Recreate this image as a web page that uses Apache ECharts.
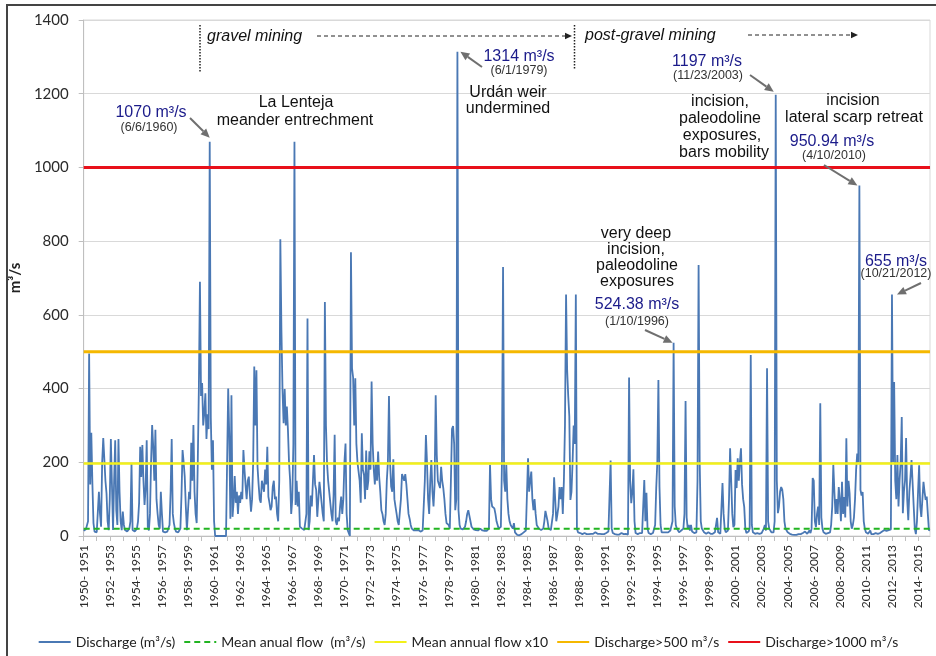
<!DOCTYPE html>
<html>
<head>
<meta charset="utf-8">
<script src="https://cdn.jsdelivr.net/npm/echarts@6/dist/echarts.min.js"></script>
<style>
  html, body { margin: 0; padding: 0; background: #fff; }
  #chart { width: 936px; height: 656px; }
</style>
</head>
<body>
<div id="chart"></div>
<script>
// hydrological years (Oct - Sep); a label every second year
const yearLabels = [];
for (let y = 1950; y <= 2014; y++) yearLabels.push(y + '- ' + (y + 1));

// monthly discharge, m3/s, one row per hydrological year
const flow1950s = [
  14, 16, 18, 22, 40, 495, 140, 280, 143, 35, 12, 10,
  10, 12, 120, 60, 25, 200, 266, 263, 150, 116, 40, 16,
  100, 263, 140, 16, 150, 260, 70, 30, 263, 120, 40, 16,
  66, 30, 16, 14, 12, 14, 20, 40, 197, 16, 14, 12,
  15, 20, 40, 90, 242, 160, 247, 150, 84, 130, 260, 25,
  15, 60, 200, 301, 242, 150, 288, 100, 61, 30, 20, 120,
  60, 12, 10, 10, 10, 12, 12, 30, 120, 263, 60, 35,
  20, 12, 10, 10, 12, 20, 110, 233, 200, 161, 80, 16,
  16, 120, 100, 253, 150, 301, 120, 60, 35, 200, 400, 690,
  380, 415, 300, 333, 387, 263, 330, 290, 1070, 320, 180, 260
];
const flow1960s = [
  40, 0, 0, 0, 0, 0, 0, 0, 0, 0, 0, 0,
  0, 400, 271, 47, 382, 52, 93, 163, 90, 120, 60, 110,
  90, 120, 100, 233, 180, 138, 100, 150, 161, 110, 66, 100,
  200, 460, 300, 450, 188, 140, 100, 90, 150, 152, 120, 180,
  140, 242, 107, 90, 70, 80, 133, 150, 100, 107, 60, 40,
  150, 805, 559, 396, 306, 399, 300, 351, 288, 200, 152, 60,
  100, 250, 1070, 84, 150, 80, 120, 25, 30, 20, 18, 16,
  16, 60, 590, 16, 40, 110, 80, 150, 220, 140, 125, 52,
  100, 147, 120, 90, 60, 40, 635, 300, 197, 150, 120, 90,
  60, 40, 110, 275, 40, 30, 50, 40, 80, 107, 60, 100
];
const flow1970s = [
  200, 251, 60, 16, 16, 0, 770, 455, 430, 300, 428, 250,
  200, 197, 150, 90, 279, 180, 166, 100, 232, 125, 150, 230,
  180, 419, 250, 180, 140, 200, 150, 229, 160, 120, 70, 60,
  40, 30, 60, 150, 200, 380, 200, 134, 120, 208, 100, 80,
  61, 40, 30, 25, 100, 168, 160, 150, 168, 140, 100, 60,
  47, 30, 20, 18, 15, 14, 15, 20, 16, 14, 12, 12,
  15, 20, 150, 274, 200, 100, 60, 150, 206, 120, 80, 140,
  382, 220, 150, 140, 130, 188, 150, 130, 100, 60, 35, 30,
  30, 20, 150, 290, 298, 250, 70, 100, 1314, 70, 30, 20,
  20, 18, 20, 25, 40, 60, 70, 68, 40, 25, 20, 18
];
const flow1980s = [
  18, 16, 15, 15, 18, 20, 16, 15, 14, 14, 13, 14,
  15, 20, 193, 100, 80, 76, 75, 60, 40, 30, 20, 18,
  25, 200, 730, 150, 120, 193, 100, 60, 40, 30, 25, 20,
  35, 10, 5, 3, 2, 2, 3, 5, 8, 10, 12, 15,
  20, 211, 120, 150, 175, 100, 70, 100, 60, 30, 25, 20,
  18, 16, 15, 20, 40, 68, 70, 40, 20, 18, 16, 20,
  60, 159, 100, 40, 58, 80, 133, 100, 133, 60, 150, 300,
  655, 450, 380, 325, 98, 120, 200, 300, 250, 655, 20, 10,
  10, 8, 6, 5, 6, 8, 7, 5, 6, 5, 8, 6,
  5, 6, 8, 10, 7, 6, 5, 6, 8, 5, 4, 5
];
const flow1990s = [
  6, 8, 10, 12, 8, 205, 20, 8, 6, 5, 5, 4,
  5, 4, 6, 8, 6, 5, 10, 6, 5, 4, 430, 150,
  89, 120, 181, 40, 8, 6, 5, 6, 8, 10, 8, 6,
  152, 40, 117, 20, 8, 6, 5, 6, 8, 10, 30, 130,
  200, 423, 133, 30, 10, 8, 10, 12, 10, 8, 10, 15,
  15, 20, 40, 524.38, 80, 30, 20, 15, 10, 12, 15, 10,
  20, 60, 366, 50, 20, 30, 15, 30, 12, 10, 8, 10,
  10, 150, 735, 200, 40, 20, 15, 10, 8, 6, 8, 10,
  8, 6, 5, 6, 8, 10, 15, 49, 10, 8, 6, 10,
  144, 60, 20, 10, 8, 15, 100, 238, 238, 60, 24, 30
];
const flow2000s = [
  179, 130, 211, 150, 200, 238, 140, 100, 79, 20, 8, 10,
  12, 20, 491, 30, 10, 8, 6, 5, 8, 10, 6, 5,
  8, 10, 20, 30, 15, 455, 40, 20, 15, 10, 8, 10,
  40, 1197, 150, 62, 80, 120, 133, 126, 100, 40, 20, 15,
  10, 8, 6, 5, 4, 4, 3, 3, 3, 4, 5, 5,
  5, 6, 8, 10, 12, 8, 6, 10, 15, 8, 20, 157,
  150, 40, 24, 60, 80, 30, 360, 50, 20, 10, 8, 6,
  5, 8, 6, 10, 30, 80, 193, 120, 60, 100, 60, 133,
  100, 40, 147, 60, 106, 50, 265, 80, 150, 116, 40, 20,
  30, 50, 100, 180, 224, 200, 950.94, 125, 110, 119, 40, 20
];
const flow2010s = [
  10, 8, 6, 5, 15, 5, 6, 5, 4, 8, 5, 6,
  6, 8, 10, 12, 15, 16, 15, 14, 15, 16, 18, 18,
  655, 200, 418, 150, 100, 220, 80, 150, 200, 323, 62, 120,
  150, 266, 100, 43, 120, 160, 206, 204, 80, 20, 5, 40,
  120, 192, 80, 52, 100, 147, 120, 98, 107, 60, 16, 15
];

const meanFlow = 19.7;
const threshold500 = 500;
const threshold1000 = 1000;

const discharge = [].concat(flow1950s, flow1960s, flow1970s, flow1980s, flow1990s, flow2000s, flow2010s);

// one category per month, label = its hydrological year
const months = [];
yearLabels.forEach(l => { for (let m = 0; m < 12; m++) months.push(l + '|' + m); });
const flat = v => months.map(() => v);

const chart = echarts.init(document.getElementById('chart'));

const option = {
  animation: false,
  textStyle: { fontFamily: 'Lato' },
  grid: { left: 83, right: 6, top: 20, bottom: 120, show: true, borderColor: '#d9d9d9', borderWidth: 1 },
  xAxis: {
    type: 'category',
    data: months,
    boundaryGap: false,
    axisLine: { lineStyle: { color: '#bfbfbf' } },
    axisTick: { interval: i => i % 12 === 0, length: 5, lineStyle: { color: '#bfbfbf' } },
    axisLabel: {
      interval: i => i % 24 === 0,
      rotate: 90,
      margin: 9,
      color: '#2a2a2a',
      fontSize: 12,
      formatter: v => v.split('|')[0]
    },
    splitLine: { show: false }
  },
  yAxis: {
    type: 'value',
    min: 0,
    max: 1400,
    interval: 200,
    name: 'm³/s',
    nameLocation: 'middle',
    nameGap: 50,
    nameTextStyle: { fontWeight: 'bold', fontSize: 15, color: '#222' },
    axisLine: { show: true, lineStyle: { color: '#bfbfbf' } },
    axisTick: { show: true, length: 5, lineStyle: { color: '#bfbfbf' } },
    axisLabel: { color: '#2a2a2a', fontSize: 15, margin: 15, formatter: v => String(v) },
    splitLine: { lineStyle: { color: '#d9d9d9' } }
  },
  legend: {
    left: 'center',
    top: 630,
    itemWidth: 32,
    itemHeight: 12,
    itemGap: 8,
    itemStyle: { opacity: 0 },
    textStyle: { fontSize: 14, color: '#222', fontFamily: 'Lato' }
  },
  series: [
    {
      name: 'Discharge (m³/s)', type: 'line', data: discharge, symbol: 'none',
      lineStyle: { color: '#4a78b4', width: 1.8 }, itemStyle: { color: '#4a78b4' }
    },
    {
      name: 'Mean anual flow  (m³/s)', type: 'line', data: flat(meanFlow), symbol: 'none',
      lineStyle: { color: '#22b422', width: 2, type: [6, 4] }, itemStyle: { color: '#22b422' }
    },
    {
      name: 'Mean annual flow x10', type: 'line', data: flat(meanFlow * 10), symbol: 'none',
      lineStyle: { color: '#f2f01a', width: 2.5 }, itemStyle: { color: '#f2f01a' }
    },
    {
      name: 'Discharge>500 m³/s', type: 'line', data: flat(threshold500), symbol: 'none',
      lineStyle: { color: '#f5b800', width: 3 }, itemStyle: { color: '#f5b800' }
    },
    {
      name: 'Discharge>1000 m³/s', type: 'line', data: flat(threshold1000), symbol: 'none',
      lineStyle: { color: '#e8101a', width: 3 }, itemStyle: { color: '#e8101a' }
    }
  ]
};
chart.setOption(option);

// ---- annotations ----
const BLUE = '#1b1b8a';
const GREY = '#6f6f6f';

function text(t, x, y, size, color, opts) {
  return {
    type: 'text', z: 100,
    style: {
      text: t, x: x, y: y, fill: color || '#111',
      font: (opts && opts.italic ? 'italic ' : '') + size + 'px "Liberation Sans", Arial, sans-serif',
      textAlign: (opts && opts.align) || 'center', textVerticalAlign: 'middle'
    }
  };
}

function arrow(x1, y1, x2, y2, color, width, head, dash) {
  const a = Math.atan2(y2 - y1, x2 - x1);
  const hw = head * 0.45;
  const bx = x2 - head * Math.cos(a), by = y2 - head * Math.sin(a);
  return [
    { type: 'line', z: 100, shape: { x1: x1, y1: y1, x2: bx, y2: by },
      style: { stroke: color, lineWidth: width, lineDash: dash || null } },
    { type: 'polygon', z: 100,
      shape: { points: [[x2, y2], [bx - hw * Math.sin(a), by + hw * Math.cos(a)], [bx + hw * Math.sin(a), by - hw * Math.cos(a)]] },
      style: { fill: color } }
  ];
}

function vline(x, y1, y2) {
  return { type: 'line', z: 100, shape: { x1: x, y1: y1, x2: x, y2: y2 },
    style: { stroke: '#222', lineWidth: 1.5, lineDash: [1.5, 1.5] } };
}

// peak pointed to by an arrow: [month index, value, tail x, tail y, tip dx, tip dy]
const peakArrows = [
  [116, 1070, 190, 118, 0, -4],
  [344, 1314, 482, 67, 3, 0],
  [637, 1197, 750, 75, -2, -3],
  [714, 950.94, 824, 165, -2, 0],
  [543, 524.38, 645, 330, -1, 0],
  [744, 655, 921, 283, 5, 0]
];

let g = [
  { type: 'rect', z: 100, shape: { x: 7, y: 5, width: 940, height: 670 },
    style: { fill: 'none', stroke: '#444', lineWidth: 2 } },
  vline(200, 25, 72),
  vline(574.5, 25, 69),
  text('gravel mining', 207, 37, 16, '#111', { italic: true, align: 'left' }),
  text('post-gravel mining', 585, 36, 16, '#111', { italic: true, align: 'left' }),
  text('1070 m³/s', 151, 113, 16, BLUE),
  text('(6/6/1960)', 149, 128, 12.5, '#333'),
  text('La Lenteja', 296, 103, 16),
  text('meander entrechment', 295, 121, 16),
  text('1314 m³/s', 519, 57, 16, BLUE),
  text('(6/1/1979)', 519, 71, 12.5, '#333'),
  text('Urdán weir', 508, 93, 16),
  text('undermined', 508, 109, 16),
  text('1197 m³/s', 707, 62, 16, BLUE),
  text('(11/23/2003)', 708, 76, 12.5, '#333'),
  text('incision,', 720, 102, 16),
  text('paleodoline', 720, 119, 16),
  text('exposures,', 722, 136, 16),
  text('bars mobility', 724, 153, 16),
  text('incision', 853, 101, 16),
  text('lateral scarp retreat', 854, 118, 16),
  text('950.94 m³/s', 832, 142, 16, BLUE),
  text('(4/10/2010)', 834, 156, 12.5, '#333'),
  text('very deep', 636, 234, 16),
  text('incision,', 636, 250, 16),
  text('paleodoline', 637, 266, 16),
  text('exposures', 637, 282, 16),
  text('524.38 m³/s', 637, 305, 16, BLUE),
  text('(1/10/1996)', 637, 322, 12.5, '#333'),
  text('655 m³/s', 896, 262, 16, BLUE),
  text('(10/21/2012)', 896, 274, 12.5, '#333')
];
g = g.concat(arrow(317, 36, 572, 36, '#222', 1, 7, [4, 3]));
g = g.concat(arrow(748, 35, 858, 35, '#222', 1, 7, [4, 3]));
peakArrows.forEach(p => {
  const tip = chart.convertToPixel({ gridIndex: 0 }, [p[0], p[1]]);
  g = g.concat(arrow(p[2], p[3], tip[0] + p[4], tip[1] + p[5], GREY, 2, 9));
});
chart.setOption({ graphic: g });
</script>
</body>
</html>
